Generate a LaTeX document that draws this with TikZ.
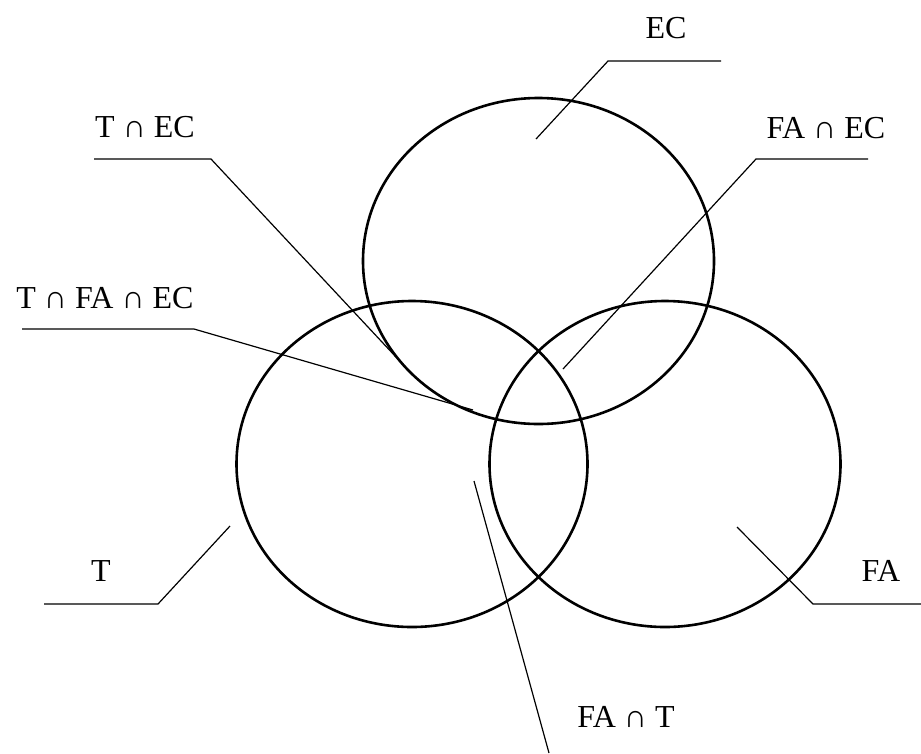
\documentclass[tikz,border=0pt]{standalone}
\usepackage{fontspec}
\setmainfont{Liberation Serif}
\usetikzlibrary{shapes.geometric}
\begin{document}
\begin{tikzpicture}[x=1pt,y=-1pt,
  setc/.style={draw=black,line width=2.6pt,ellipse,inner sep=0pt,minimum width=351pt,minimum height=326pt},
  lbl/.style={font=\fontsize{32}{38}\selectfont,inner sep=0pt,anchor=center},
  lead/.style={draw=black,line width=1.2pt}]
\useasboundingbox (0,0) rectangle (921,753);
% sets
\node[setc] (EC) at (538.5,261) {};
\node[setc] (T) at (412,464) {};
\node[setc] (FA) at (665,464) {};
% labels
\node[lbl] (lEC) at (666,28) {EC};
\node[lbl] (lTEC) at (145,127) {T ∩ EC};
\node[lbl] (lFAEC) at (826,128) {FA ∩ EC};
\node[lbl] (lTFAEC) at (105,298) {T ∩ FA ∩ EC};
\node[lbl] (lT) at (101,571) {T};
\node[lbl] (lFA) at (881,571) {FA};
\node[lbl] (lFAT) at (626,717) {FA ∩ T};
% leader points
\coordinate (ec1) at (536,139); \coordinate (ec2) at (608,61); \coordinate (ec3) at (721,61);
\coordinate (tec1) at (94,159); \coordinate (tec2) at (211,159); \coordinate (tec3) at (396,357);
\coordinate (faec1) at (868,159); \coordinate (faec2) at (756,159); \coordinate (faec3) at (563,369);
\coordinate (tfa1) at (22,329); \coordinate (tfa2) at (194,329); \coordinate (tfa3) at (473,410);
\coordinate (t1) at (44,604); \coordinate (t2) at (158,604); \coordinate (t3) at (230,526);
\coordinate (fa1) at (921,604); \coordinate (fa2) at (813,604); \coordinate (fa3) at (737,527);
\coordinate (fat1) at (474,481); \coordinate (fat2) at (549,753);
\draw[lead] (ec1) -- (ec2) -- (ec3);
\draw[lead] (tec1) -- (tec2) -- (tec3);
\draw[lead] (faec1) -- (faec2) -- (faec3);
\draw[lead] (tfa1) -- (tfa2) -- (tfa3);
\draw[lead] (t1) -- (t2) -- (t3);
\draw[lead] (fa1) -- (fa2) -- (fa3);
\draw[lead] (fat1) -- (fat2);
\end{tikzpicture}
\end{document}
